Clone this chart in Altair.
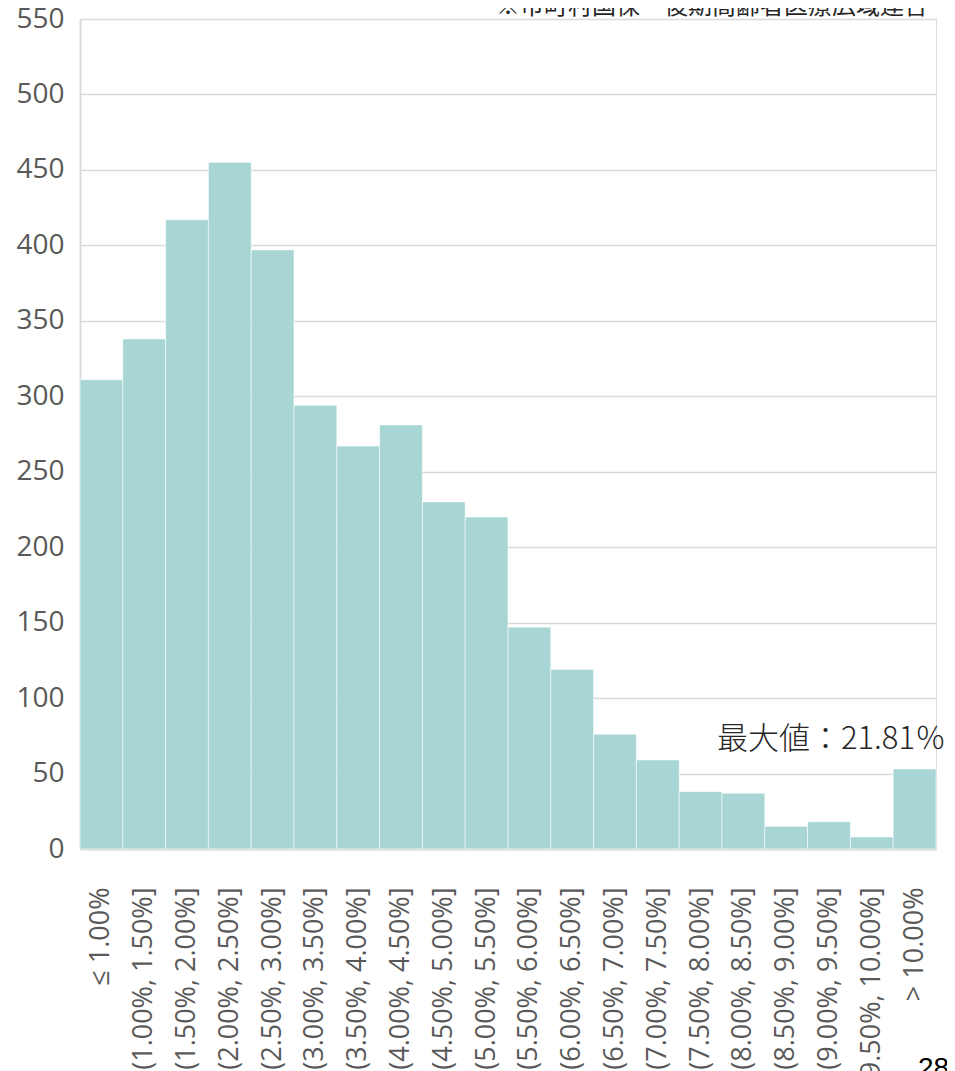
import altair as alt
import pandas as pd

categories = [
    "≤ 1.00%", "(1.00%, 1.50%]", "(1.50%, 2.00%]", "(2.00%, 2.50%]",
    "(2.50%, 3.00%]", "(3.00%, 3.50%]", "(3.50%, 4.00%]", "(4.00%, 4.50%]",
    "(4.50%, 5.00%]", "(5.00%, 5.50%]", "(5.50%, 6.00%]", "(6.00%, 6.50%]",
    "(6.50%, 7.00%]", "(7.00%, 7.50%]", "(7.50%, 8.00%]", "(8.00%, 8.50%]",
    "(8.50%, 9.00%]", "(9.00%, 9.50%]", "(9.50%, 10.00%]", "> 10.00%",
]
counts = [311, 338, 417, 455, 397, 294, 267, 281, 230, 220,
          147, 119, 76, 59, 38, 37, 15, 18, 8, 53]
y_ticks = list(range(0, 551, 50))

note_text = ["※市町村国保・後期高齢者医療広域連合"]
max_text = ["最大値：21.81％"]
page_text = ["28"]

df = pd.DataFrame({"bin": categories, "count": counts})

bars = alt.Chart(df).mark_bar(
    color="#A7D6D5", stroke="#FFFFFF", strokeOpacity=0.55, strokeWidth=1
).encode(
    x=alt.X("bin:N", sort=categories, title=None,
            scale=alt.Scale(paddingInner=0, paddingOuter=0),
            axis=alt.Axis(labelAngle=270, labelAlign="right", labelBaseline="middle",
                          labelPadding=38, labelLimit=400, ticks=False,
                          domainColor="#D9D9D9", domainWidth=2,
                          labelFont="Open Sans", labelFontSize=27, labelColor="#595959")),
    y=alt.Y("count:Q", title=None,
            scale=alt.Scale(domain=[0, 550], nice=False),
            axis=alt.Axis(values=y_ticks, grid=True, gridColor="#D9D9D9", gridWidth=1.5,
                          domain=True, domainColor="#D9D9D9", domainWidth=2,
                          ticks=False, labelPadding=16,
                          labelFont="Open Sans", labelFontSize=28, labelColor="#595959")),
)

note = alt.Chart(pd.DataFrame({"t": note_text})).mark_text(
    align="right", baseline="alphabetic", font="Noto Sans CJK JP",
    fontSize=24, color="#262626"
).encode(x=alt.value(848), y=alt.value(-5), text="t:N")

maxv = alt.Chart(pd.DataFrame({"t": max_text})).mark_text(
    align="right", baseline="alphabetic", font="Noto Sans CJK JP",
    fontSize=31, fontWeight=300, color="#262626"
).encode(x=alt.value(866), y=alt.value(730), text="t:N")

page = alt.Chart(pd.DataFrame({"t": page_text})).mark_text(
    align="left", baseline="alphabetic", font="Liberation Sans",
    fontSize=28, color="#000000"
).encode(x=alt.value(838), y=alt.value(1058), text="t:N")

chart = alt.layer(bars, note, maxv, page).properties(
    width=856, height=830,
    autosize=alt.AutoSizeParams(type="none"),
    padding={"left": 72, "top": 11, "right": 11, "bottom": 240},
).configure_view(stroke=None).configure(background="#FFFFFF")

chart.save("out.html", embed_options={"renderer": "svg", "actions": False})
